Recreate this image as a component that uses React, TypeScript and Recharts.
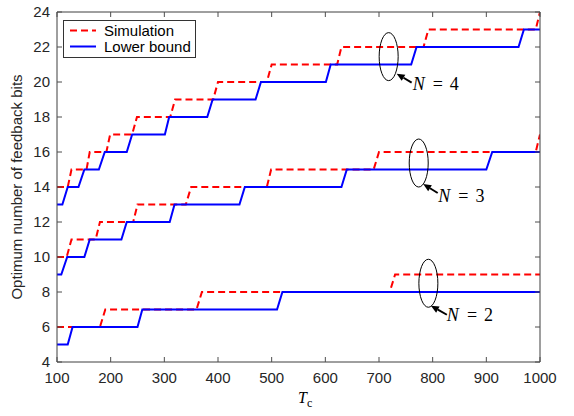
import {
  LineChart,
  Line,
  XAxis,
  YAxis,
  CartesianGrid,
  Legend,
  ReferenceDot,
} from 'recharts';

// step curves (x = T_c, y = bits)
const simN2X = [100, 180, 190, 360, 370, 720, 730, 1000];
const simN2Y = [6, 6, 7, 7, 8, 8, 9, 9];
const lbN2X = [100, 120, 129, 250, 259, 510, 520, 1000];
const lbN2Y = [5, 5, 6, 6, 7, 7, 8, 8];

const simN3X = [100, 118, 127, 172, 180, 242, 250, 340, 350, 491, 499, 690, 700, 992, 1000];
const simN3Y = [10, 10, 11, 11, 12, 12, 13, 13, 14, 14, 15, 15, 16, 16, 17];
const lbN3X = [100, 108, 119, 151, 161, 220, 230, 310, 319, 440, 450, 630, 640, 900, 911, 1000];
const lbN3Y = [9, 9, 10, 10, 11, 11, 12, 12, 13, 13, 14, 14, 15, 15, 16, 16];

const simN4X = [100, 120, 127, 155, 161, 192, 199, 240, 249, 311, 320, 391, 400, 491, 500, 622, 630, 783, 792, 992, 1000];
const simN4Y = [14, 14, 15, 15, 16, 16, 17, 17, 18, 18, 19, 19, 20, 20, 21, 21, 22, 22, 23, 23, 24];
const lbN4X = [100, 110, 120, 140, 151, 178, 189, 230, 240, 301, 309, 380, 390, 470, 480, 601, 610, 760, 770, 960, 970, 1000];
const lbN4Y = [13, 13, 14, 14, 15, 15, 16, 16, 17, 17, 18, 18, 19, 19, 20, 20, 21, 21, 22, 22, 23, 23];

const xTicks = [100, 200, 300, 400, 500, 600, 700, 800, 900, 1000];
const yTicks = [4, 6, 8, 10, 12, 14, 16, 18, 20, 22, 24];

// ellipse centres of the N = ... callouts
const callN = ['4', '3', '2'];
const callX = [718, 774, 792];
const callY = [21.45, 15.37, 8.5];

const RED = '#ff0000';
const BLUE = '#0000ff';
const AXIS = '#4d4d4d';
const TEXT = '#262626';
const SANS = '"Liberation Sans", Arial, sans-serif';
const SERIF = '"Liberation Serif", "Times New Roman", serif';

const toPoints = (xs: number[], ys: number[]) => xs.map((x, i) => ({ x, y: ys[i] }));

const series = [
  { key: 'sim2', data: toPoints(simN2X, simN2Y), sim: true },
  { key: 'sim3', data: toPoints(simN3X, simN3Y), sim: true },
  { key: 'sim4', data: toPoints(simN4X, simN4Y), sim: true },
  { key: 'lb2', data: toPoints(lbN2X, lbN2Y), sim: false },
  { key: 'lb3', data: toPoints(lbN3X, lbN3Y), sim: false },
  { key: 'lb4', data: toPoints(lbN4X, lbN4Y), sim: false },
];

// arrow head / tail and text offsets relative to the ellipse centre (px)
const callOffsets = [
  { hx: 8, hy: 17, tx: 23, ty: 26, lx: 24, ly: 33 },
  { hx: 4.5, hy: 21, tx: 19, ty: 30, lx: 19.5, ly: 38.5 },
  { hx: 2.5, hy: 22.5, tx: 18.5, ty: 31.5, lx: 18.5, ly: 37.5 },
];

function makeCallout(label: string, idx: number) {
  const o = callOffsets[idx];
  return (props: any) => {
    const { cx, cy } = props;
    const hx = cx + o.hx;
    const hy = cy + o.hy;
    const tx = cx + o.tx;
    const ty = cy + o.ty;
    const ang = Math.atan2(hy - ty, hx - tx);
    const len = 8;
    const w = 3.5;
    const bx = hx - len * Math.cos(ang);
    const by = hy - len * Math.sin(ang);
    const p1 = `${hx},${hy}`;
    const p2 = `${bx + w * Math.sin(ang)},${by - w * Math.cos(ang)}`;
    const p3 = `${bx - w * Math.sin(ang)},${by + w * Math.cos(ang)}`;
    return (
      <g>
        <ellipse cx={cx} cy={cy} rx={9.5} ry={24} fill="none" stroke="#000" strokeWidth={1} />
        <line x1={tx} y1={ty} x2={bx} y2={by} stroke="#000" strokeWidth={2} />
        <polygon points={`${p1} ${p2} ${p3}`} fill="#000" />
        <text x={cx + o.lx} y={cy + o.ly} fontFamily={SERIF} fontSize={18} fill="#000">
          <tspan fontStyle="italic">N</tspan>
          <tspan dx={8}>=</tspan>
          <tspan dx={7}>{label}</tspan>
        </text>
      </g>
    );
  };
}

function LegendBox() {
  const items = [
    { name: 'Simulation', color: RED, dash: '7 4' },
    { name: 'Lower bound', color: BLUE, dash: undefined },
  ];
  return (
    <div
      style={{
        border: '1px solid #333',
        background: '#fff',
        padding: '2px 4px 3px 6px',
        fontFamily: SANS,
        fontSize: 15,
        lineHeight: '15.5px',
        color: '#000',
      }}
    >
      {items.map((it) => (
        <div key={it.name} style={{ display: 'flex', alignItems: 'center' }}>
          <svg width={34} height={15}>
            <line x1={0} y1={7.5} x2={26} y2={7.5} stroke={it.color} strokeWidth={2} strokeDasharray={it.dash} />
          </svg>
          <span>{it.name}</span>
        </div>
      ))}
    </div>
  );
}

export default function App() {
  return (
    <div style={{ position: 'absolute', left: 0, top: 0 }}>
      <LineChart width={574} height={416} margin={{ top: 11, right: 33, bottom: 24, left: 12 }}>
        <CartesianGrid stroke="#e4e4e4" strokeWidth={1} />
        <XAxis
          xAxisId="b"
          type="number"
          dataKey="x"
          domain={[100, 1000]}
          ticks={xTicks}
          allowDataOverflow
          height={30}
          stroke={AXIS}
          tickSize={-5}
          tickMargin={15}
          tick={{ fill: TEXT, fontFamily: SANS, fontSize: 15 }}
          label={{
            position: 'bottom',
            content: () => (
              <text x={298} y={403} fontFamily={SERIF} fontSize={16} fill="#000">
                <tspan fontStyle="italic">T</tspan>
                <tspan fontSize={12} dy={4}>c</tspan>
              </text>
            ),
          }}
        />
        <XAxis
          xAxisId="t"
          orientation="top"
          type="number"
          dataKey="x"
          domain={[100, 1000]}
          ticks={xTicks}
          allowDataOverflow
          height={1}
          stroke={AXIS}
          tickSize={-5}
          tickFormatter={() => ''}
        />
        <YAxis
          yAxisId="l"
          type="number"
          domain={[4, 24]}
          ticks={yTicks}
          allowDataOverflow
          width={45}
          stroke={AXIS}
          tickSize={-5}
          tickMargin={12}
          tick={{ fill: TEXT, fontFamily: SANS, fontSize: 15 }}
          label={{
            position: 'left',
            content: () => (
              <text
                x={22}
                y={187}
                transform="rotate(-90 22 187)"
                textAnchor="middle"
                fontFamily={SANS}
                fontSize={15}
                fill={TEXT}
              >
                Optimum number of feedback bits
              </text>
            ),
          }}
        />
        <YAxis
          yAxisId="r"
          orientation="right"
          type="number"
          domain={[4, 24]}
          ticks={yTicks}
          allowDataOverflow
          width={1}
          stroke={AXIS}
          tickSize={-5}
          tickFormatter={() => ''}
        />
        {series.map((s) => (
          <Line
            key={s.key}
            xAxisId="b"
            yAxisId="l"
            data={s.data}
            dataKey="y"
            type="linear"
            stroke={s.sim ? RED : BLUE}
            strokeWidth={2}
            strokeDasharray={s.sim ? '7 4' : undefined}
            dot={false}
            activeDot={false}
            legendType="none"
            isAnimationActive={false}
          />
        ))}
        {callN.map((n, i) => (
          <ReferenceDot
            key={n}
            xAxisId="b"
            yAxisId="l"
            x={callX[i]}
            y={callY[i]}
            r={1}
            shape={makeCallout(n, i)}
          />
        ))}
        <Legend
          layout="horizontal"
          align="center"
          verticalAlign="middle"
          wrapperStyle={{ left: 63, top: 20, width: 'auto', height: 'auto' }}
          content={() => <LegendBox />}
        />
      </LineChart>
    </div>
  );
}
